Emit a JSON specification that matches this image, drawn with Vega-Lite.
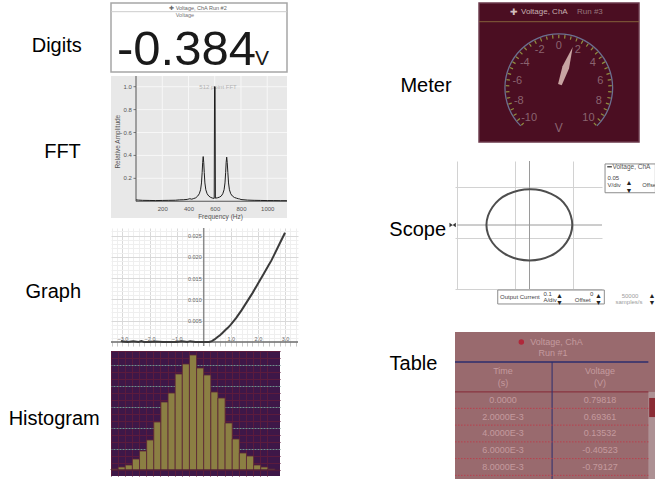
{
"$schema":"https://vega.github.io/schema/vega-lite/v6.json",
"background":"#ffffff",
"padding":{"left":0,"top":2,"right":0,"bottom":0},
"autosize":{"type":"pad"},
"spacing":0,
"bounds":"full",
"config":{"font":"Liberation Sans","view":{"stroke":null}},
"hconcat":[
{"columns":2,"align":"each","bounds":"flush","spacing":{"row":0,"column":0},
"concat":[
{"width":111,"height":73,"data":{"values":[{"label":"Digits"}]},"mark":{"type":"text","fontSize":20,"color":"#000000","dx":1.2,"dy":6.8},"encoding":{"text":{"field":"label"}}},
{"width":176,"height":69,"view":{"fill":"#ffffff","stroke":"#a6a6a6","strokeWidth":1.5},
"data":{"values":[{"quantity":"Voltage","header":"✚ Voltage, ChA   Run #2","reading":"-0.384","unit":"V"}]},
"layer":[
{"mark":{"type":"rule","color":"#cccccc","strokeWidth":1},"encoding":{"y":{"datum":0.874,"type":"quantitative","scale":{"domain":[0,1]},"axis":null}}},
{"mark":{"type":"text","fontSize":5.5,"color":"#666666"},"encoding":{"x":{"datum":0.494,"type":"quantitative","scale":{"domain":[0,1]},"axis":null},"y":{"datum":0.928,"type":"quantitative","scale":{"domain":[0,1]},"axis":null},"text":{"field":"header"}}},
{"mark":{"type":"text","fontSize":5.5,"color":"#777777"},"encoding":{"x":{"datum":0.42,"type":"quantitative","scale":{"domain":[0,1]},"axis":null},"y":{"datum":0.826,"type":"quantitative","scale":{"domain":[0,1]},"axis":null},"text":{"field":"quantity"}}},
{"mark":{"type":"text","fontSize":49,"color":"#1a1a1a","align":"left","baseline":"alphabetic"},"encoding":{"x":{"datum":0.034,"type":"quantitative","scale":{"domain":[0,1]},"axis":null},"y":{"datum":0.101,"type":"quantitative","scale":{"domain":[0,1]},"axis":null},"text":{"field":"reading"}}},
{"mark":{"type":"text","fontSize":21,"color":"#1a1a1a","align":"left","baseline":"alphabetic"},"encoding":{"x":{"datum":0.818,"type":"quantitative","scale":{"domain":[0,1]},"axis":null},"y":{"datum":0.101,"type":"quantitative","scale":{"domain":[0,1]},"axis":null},"text":{"field":"unit"}}}
]},
{"width":111,"height":152,"data":{"values":[{"label":"FFT"}]},"mark":{"type":"text","fontSize":20,"color":"#000000","dx":7,"dy":-0.4},"encoding":{"text":{"field":"label"}}},
{"width":176,"height":142,"view":{"fill":"#e8e8e8","stroke":null},
"layer":[
{"data":{"values":[{"f":200},{"f":400},{"f":600},{"f":800},{"f":1000}]},"mark":{"type":"rule","color":"#f7f7f7","strokeWidth":1},
"encoding":{"x":{"field":"f","type":"quantitative","scale":{"domain":[-190.5,1150.5]},"axis":{"orient":"bottom","offset":-16.75,"values":[200,400,600,800,1000],"format":"d","grid":false,"domain":false,"ticks":false,"tickSize":0,"labelPadding":4.5,"labelOverlap":false,"labelFontSize":6,"labelColor":"#555555","title":null}},
"y":{"datum":0,"type":"quantitative","scale":{"domain":[-0.1462,1.0934]},"axis":null},
"y2":{"datum":1.0934}}},
{"data":{"values":[{"a":0.2},{"a":0.4},{"a":0.6},{"a":0.8},{"a":1.0}]},"layer":[
{"mark":{"type":"rule","color":"#f7f7f7","strokeWidth":1},
"encoding":{"y":{"field":"a","type":"quantitative","scale":{"domain":[-0.1462,1.0934]}},"x":{"datum":0,"type":"quantitative","scale":{"domain":[-190.5,1150.5]}},"x2":{"datum":1150.5}}},
{"mark":{"type":"rule","color":"#777777","strokeWidth":1},
"encoding":{"y":{"field":"a","type":"quantitative","scale":{"domain":[-0.1462,1.0934]}},"x":{"datum":-19,"type":"quantitative","scale":{"domain":[-190.5,1150.5]}},"x2":{"datum":0}}},
{"mark":{"type":"text","fontSize":6,"color":"#555555","align":"right"},
"encoding":{"y":{"field":"a","type":"quantitative","scale":{"domain":[-0.1462,1.0934]}},"x":{"datum":-31,"type":"quantitative","scale":{"domain":[-190.5,1150.5]}},"text":{"field":"a","type":"quantitative","format":".1f"}}}
]},
{"data":{"values":[{}]},"mark":{"type":"rule","color":"#555555","strokeWidth":1},
"encoding":{"y":{"datum":0,"type":"quantitative","scale":{"domain":[-0.1462,1.0934]}},"x":{"datum":0,"type":"quantitative","scale":{"domain":[-190.5,1150.5]}},"x2":{"datum":1150.5}}},
{"data":{"values":[{}]},"mark":{"type":"rule","color":"#555555","strokeWidth":1},
"encoding":{"x":{"datum":0,"type":"quantitative","scale":{"domain":[-190.5,1150.5]}},"y":{"datum":0,"type":"quantitative","scale":{"domain":[-0.1462,1.0934]}},"y2":{"datum":1.0934}}},
{"data":{"values":[{"title":"512 point FFT","xtitle":"Frequency (Hz)","ytitle":"Relative Amplitude"}]},"layer":[
{"mark":{"type":"text","fontSize":6,"color":"#b3b3b3"},"encoding":{"x":{"datum":625,"type":"quantitative","scale":{"domain":[-190.5,1150.5]}},"y":{"datum":1.0,"type":"quantitative","scale":{"domain":[-0.1462,1.0934]}},"text":{"field":"title"}}},
{"mark":{"type":"text","fontSize":6.5,"color":"#555555"},"encoding":{"x":{"datum":644,"type":"quantitative","scale":{"domain":[-190.5,1150.5]}},"y":{"datum":-0.136,"type":"quantitative","scale":{"domain":[-0.1462,1.0934]}},"text":{"field":"xtitle"}}},
{"mark":{"type":"text","fontSize":6.5,"color":"#555555","angle":270},"encoding":{"x":{"datum":-135,"type":"quantitative","scale":{"domain":[-190.5,1150.5]}},"y":{"datum":0.52,"type":"quantitative","scale":{"domain":[-0.1462,1.0934]}},"text":{"field":"ytitle"}}}
]},
{"data":{"values":[
{"frequency":0,"amplitude":0.012},{"frequency":20,"amplitude":0.01},{"frequency":50,"amplitude":0.008},{"frequency":100,"amplitude":0.007},{"frequency":150,"amplitude":0.006},{"frequency":200,"amplitude":0.007},{"frequency":250,"amplitude":0.008},{"frequency":300,"amplitude":0.009},{"frequency":330,"amplitude":0.012},{"frequency":360,"amplitude":0.013},{"frequency":390,"amplitude":0.016},{"frequency":410,"amplitude":0.022},{"frequency":425,"amplitude":0.018},{"frequency":440,"amplitude":0.024},{"frequency":455,"amplitude":0.03},{"frequency":470,"amplitude":0.045},{"frequency":482,"amplitude":0.065},{"frequency":492,"amplitude":0.1},{"frequency":499,"amplitude":0.16},{"frequency":504,"amplitude":0.25},{"frequency":508,"amplitude":0.34},{"frequency":512,"amplitude":0.39},{"frequency":516,"amplitude":0.34},{"frequency":520,"amplitude":0.25},{"frequency":525,"amplitude":0.16},{"frequency":532,"amplitude":0.1},{"frequency":542,"amplitude":0.065},{"frequency":555,"amplitude":0.045},{"frequency":570,"amplitude":0.033},{"frequency":585,"amplitude":0.027},{"frequency":596,"amplitude":0.025},{"frequency":598.5,"amplitude":1.0},{"frequency":602.5,"amplitude":1.0},{"frequency":605,"amplitude":0.027},{"frequency":620,"amplitude":0.03},{"frequency":636,"amplitude":0.036},{"frequency":649,"amplitude":0.045},{"frequency":661,"amplitude":0.065},{"frequency":671,"amplitude":0.1},{"frequency":678,"amplitude":0.16},{"frequency":683,"amplitude":0.25},{"frequency":687,"amplitude":0.34},{"frequency":691,"amplitude":0.385},{"frequency":695,"amplitude":0.34},{"frequency":700,"amplitude":0.25},{"frequency":705,"amplitude":0.16},{"frequency":712,"amplitude":0.1},{"frequency":722,"amplitude":0.065},{"frequency":735,"amplitude":0.045},{"frequency":750,"amplitude":0.033},{"frequency":765,"amplitude":0.027},{"frequency":780,"amplitude":0.022},{"frequency":790,"amplitude":0.02},{"frequency":800,"amplitude":0.015},{"frequency":850,"amplitude":0.01},{"frequency":900,"amplitude":0.008},{"frequency":950,"amplitude":0.007},{"frequency":1000,"amplitude":0.006},{"frequency":1050,"amplitude":0.006},{"frequency":1100,"amplitude":0.005},{"frequency":1150,"amplitude":0.005}
]},"mark":{"type":"line","color":"#1e1e1e","strokeWidth":1},
"encoding":{"x":{"field":"frequency","type":"quantitative","scale":{"domain":[-190.5,1150.5]}},"y":{"field":"amplitude","type":"quantitative","scale":{"domain":[-0.1462,1.0934]}}}}
]},
{"width":111,"height":123,"data":{"values":[{"label":"Graph"}]},"mark":{"type":"text","fontSize":20,"color":"#000000","dx":-2.2,"dy":2.8},"encoding":{"text":{"field":"label"}}},
{"width":187,"height":118,"view":{"fill":"#ffffff","stroke":null},
"layer":[
{"data":{"values":[{}]},"mark":{"type":"rule","color":"#8a8a8a","strokeWidth":1.5},
"encoding":{"x":{"datum":0,"type":"quantitative","scale":{"domain":[-3.421,3.48]},"axis":{"orient":"bottom","offset":-4,"values":[-3.4,-3.2,-2.8,-2.6,-2.4,-2.2,-1.8,-1.6,-1.4,-1.2,-0.8,-0.6,-0.4,-0.2,0.2,0.4,0.6,0.8,1.2,1.4,1.6,1.8,2.2,2.4,2.6,2.8,3.2,3.4],"grid":true,"gridColor":"#efefef","domain":false,"ticks":true,"tickSize":4,"tickColor":"#c8c8c8","labels":false,"title":null}}}},
{"data":{"values":[{}]},"mark":{"type":"rule","color":"#6a6a6a","strokeWidth":1.5},
"encoding":{"y":{"datum":0,"type":"quantitative","scale":{"domain":[-0.00094,0.02682]},"axis":{"orient":"right","values":[0.001,0.002,0.003,0.004,0.006,0.007,0.008,0.009,0.011,0.012,0.013,0.014,0.016,0.017,0.018,0.019,0.021,0.022,0.023,0.024,0.026],"grid":true,"gridColor":"#efefef","domain":false,"ticks":false,"tickSize":0,"labels":false,"title":null}}}},
{"data":{"values":[
{"x":-3.05,"y":0.0003},{"x":-3.0,"y":0.0001},{"x":-2.8,"y":0.0},{"x":-2.6,"y":0.0002},{"x":-2.4,"y":0.0},{"x":-2.3,"y":0.0002},{"x":-2.2,"y":0.0},{"x":-2.0,"y":0.0},{"x":-1.8,"y":0.0001},{"x":-1.5,"y":0.0},{"x":-1.2,"y":0.0},{"x":-1.0,"y":0.0},{"x":-0.8,"y":0.0002},{"x":-0.6,"y":0.0},{"x":-0.5,"y":0.0002},{"x":-0.3,"y":0.0},{"x":0.0,"y":0.0},{"x":0.2,"y":0.0},{"x":0.3,"y":0.0002},{"x":0.4,"y":0.0006},{"x":0.5,"y":0.0011},{"x":0.6,"y":0.0016},{"x":0.7,"y":0.0022},{"x":0.8,"y":0.0028},{"x":0.9,"y":0.0034},{"x":1.0,"y":0.0041},{"x":1.2,"y":0.0057},{"x":1.4,"y":0.0075},{"x":1.5,"y":0.0085},{"x":1.6,"y":0.0095},{"x":1.8,"y":0.0115},{"x":2.0,"y":0.0137},{"x":2.2,"y":0.0159},{"x":2.4,"y":0.0181},{"x":2.5,"y":0.0192},{"x":2.6,"y":0.0205},{"x":2.8,"y":0.0231},{"x":3.0,"y":0.0257}
]},"mark":{"type":"line","color":"#3a3a3a","strokeWidth":2},
"encoding":{"x":{"field":"x","type":"quantitative","scale":{"domain":[-3.421,3.48]},"axis":{"orient":"top","offset":-114,"values":[-3,-2,-1,1,2,3],"format":".1f","grid":true,"gridColor":"#d9d9d9","domain":false,"ticks":false,"tickSize":0,"labelPadding":1,"labelOverlap":false,"labelFontSize":5.5,"labelColor":"#666666","title":null}},
"y":{"field":"y","type":"quantitative","scale":{"domain":[-0.00094,0.02682]},"axis":{"orient":"left","offset":-92.7,"values":[0.005,0.01,0.015,0.02,0.025],"format":".3f","grid":true,"gridColor":"#d9d9d9","domain":false,"ticks":false,"tickSize":0,"labelPadding":2.5,"labelOverlap":false,"labelFontSize":5.5,"labelColor":"#666666","title":null}}}}
]},
{"width":111,"height":125,"data":{"values":[{"label":"Histogram"}]},"mark":{"type":"text","fontSize":20,"color":"#000000","dx":-1.3,"dy":5.6},"encoding":{"text":{"field":"label"}}},
{"width":169,"height":125,"view":{"fill":"#3e1748","stroke":null},
"layer":[
{"data":{"values":[{"bin":1,"count":1},{"bin":2,"count":3},{"bin":3,"count":5},{"bin":4,"count":11},{"bin":5,"count":19},{"bin":6,"count":30},{"bin":7,"count":48},{"bin":8,"count":68},{"bin":9,"count":77},{"bin":10,"count":96},{"bin":11,"count":106},{"bin":12,"count":115},{"bin":13,"count":102},{"bin":14,"count":95},{"bin":15,"count":78},{"bin":16,"count":72},{"bin":17,"count":47},{"bin":18,"count":31},{"bin":19,"count":17},{"bin":20,"count":14},{"bin":21,"count":5},{"bin":22,"count":3},{"bin":23,"count":1}]},
"mark":{"type":"bar","color":"#8b7f43","stroke":"#5c2636","strokeWidth":0.8},
"encoding":{"x":{"field":"bin","type":"ordinal","scale":{"type":"band","paddingInner":0,"paddingOuter":0.35,"align":0},"axis":{"grid":true,"gridColor":"#5b1b3d","bandPosition":0,"labels":false,"ticks":false,"tickSize":0,"domain":false,"title":null}},
"y":{"field":"count","type":"quantitative","scale":{"domain":[-6,119]},"axis":{"orient":"left","values":[0,7,14,28,35,49,56,70,77,91,98,112,119],"grid":true,"gridColor":"#5b1b3d","labels":false,"ticks":false,"tickSize":0,"domain":false,"title":null}},
"y2":{"datum":0}}},
{"data":{"values":[{}]},"mark":{"type":"rule","color":"#4a1a3a","strokeWidth":1},
"encoding":{"y":{"datum":0,"type":"quantitative","scale":{"domain":[-6,119]},"axis":{"orient":"right","values":[21,42,63,84,105],"grid":true,"gridColor":"#6f908b","gridDash":[2,1],"gridWidth":1.2,"labels":false,"ticks":false,"tickSize":0,"domain":false,"title":null}}}}
]}
]},
{"columns":2,"align":"each","bounds":"flush","spacing":{"row":0,"column":0},
"concat":[
{"width":156,"height":158,"data":{"values":[{"label":"Meter"}]},"mark":{"type":"text","fontSize":20,"color":"#000000","dx":49,"dy":4.3},"encoding":{"text":{"field":"label"}}},
{"width":184,"height":139,
"data":{"values":[{"plus":"✚","source":"Voltage, ChA","run":"Run #3","reading":1.4,"unit":"V"}]},
"layer":[
{"mark":{"type":"rect","fill":"#4b0e22","stroke":"#6b394b","strokeWidth":1.5},"encoding":{"x":{"datum":-1.464,"type":"quantitative","scale":{"domain":[-1.905,1.472]},"axis":null},"x2":{"datum":1.472},"y":{"datum":-0.994,"type":"quantitative","scale":{"domain":[-0.994,1.556]},"axis":null},"y2":{"datum":1.556}}},
{"mark":{"type":"rule","color":"#83603a","strokeWidth":1},"encoding":{"x":{"datum":-1.464,"type":"quantitative","scale":{"domain":[-1.905,1.472]},"axis":null},"x2":{"datum":1.472},"y":{"datum":1.213,"type":"quantitative","scale":{"domain":[-0.994,1.556]},"axis":null}}},
{"mark":{"type":"text","fontSize":9,"color":"#d4bebe"},"encoding":{"x":{"datum":-0.828,"type":"quantitative","scale":{"domain":[-1.905,1.472]},"axis":null},"y":{"datum":1.385,"type":"quantitative","scale":{"domain":[-0.994,1.556]},"axis":null},"text":{"field":"plus"}}},
{"mark":{"type":"text","fontSize":8,"color":"#c7b0b0","align":"left"},"encoding":{"x":{"datum":-0.694,"type":"quantitative","scale":{"domain":[-1.905,1.472]},"axis":null},"y":{"datum":1.385,"type":"quantitative","scale":{"domain":[-0.994,1.556]},"axis":null},"text":{"field":"source"}}},
{"mark":{"type":"text","fontSize":8,"color":"#98767d","align":"left"},"encoding":{"x":{"datum":0.334,"type":"quantitative","scale":{"domain":[-1.905,1.472]},"axis":null},"y":{"datum":1.385,"type":"quantitative","scale":{"domain":[-0.994,1.556]},"axis":null},"text":{"field":"run"}}},
{"data":{"values":[{"from":-10,"to":10}]},"mark":{"type":"arc","radius":54.5,"radius2":53.2,"color":"#6c7090"},
"encoding":{"x":{"datum":0,"type":"quantitative","scale":{"domain":[-1.905,1.472]},"axis":null},"y":{"datum":0,"type":"quantitative","scale":{"domain":[-0.994,1.556]},"axis":null},"theta":{"field":"from","type":"quantitative","stack":null,"scale":{"domain":[-10,10],"range":[-2.3562,2.3562]}},"theta2":{"field":"to"}}},
{"data":{"values":[{"v":-10},{"v":-9.5},{"v":-9},{"v":-8.5},{"v":-8},{"v":-7.5},{"v":-7},{"v":-6.5},{"v":-6},{"v":-5.5},{"v":-5},{"v":-4.5},{"v":-4},{"v":-3.5},{"v":-3},{"v":-2.5},{"v":-2},{"v":-1.5},{"v":-1},{"v":-0.5},{"v":0},{"v":0.5},{"v":1},{"v":1.5},{"v":2},{"v":2.5},{"v":3},{"v":3.5},{"v":4},{"v":4.5},{"v":5},{"v":5.5},{"v":6},{"v":6.5},{"v":7},{"v":7.5},{"v":8},{"v":8.5},{"v":9},{"v":9.5},{"v":10}]},
"mark":{"type":"arc","radius":53,"radius2":49.5,"thetaOffset":-0.012,"theta2Offset":0.012,"color":"#8f8c3e"},
"encoding":{"x":{"datum":0,"type":"quantitative","scale":{"domain":[-1.905,1.472]},"axis":null},"y":{"datum":0,"type":"quantitative","scale":{"domain":[-0.994,1.556]},"axis":null},"theta":{"field":"v","type":"quantitative","stack":null,"scale":{"domain":[-10,10],"range":[-2.3562,2.3562]}},"theta2":{"field":"v"}}},
{"data":{"values":[{"v":-10},{"v":-8},{"v":-6},{"v":-4},{"v":-2},{"v":0},{"v":2},{"v":4},{"v":6},{"v":8},{"v":10}]},
"mark":{"type":"text","radius":42,"fontSize":11,"color":"#8a6470"},
"encoding":{"x":{"datum":0,"type":"quantitative","scale":{"domain":[-1.905,1.472]},"axis":null},"y":{"datum":0,"type":"quantitative","scale":{"domain":[-0.994,1.556]},"axis":null},"theta":{"field":"v","type":"quantitative","stack":null,"scale":{"domain":[-10,10],"range":[-2.3562,2.3562]}},"text":{"field":"v","type":"nominal"}}},
{"mark":{"type":"text","fontSize":12,"color":"#8a6470"},"encoding":{"x":{"datum":0,"type":"quantitative","scale":{"domain":[-1.905,1.472]},"axis":null},"y":{"datum":-0.743,"type":"quantitative","scale":{"domain":[-0.994,1.556]},"axis":null},"text":{"field":"unit"}}},
{"mark":{"type":"point","shape":"M0,-1L0.08,-0.5L0.045,-0.08L-0.045,-0.08L-0.08,-0.5Z","size":7400,"filled":true,"color":"#c8a4a2","opacity":1},
"encoding":{"x":{"datum":0,"type":"quantitative","scale":{"domain":[-1.905,1.472]},"axis":null},"y":{"datum":0,"type":"quantitative","scale":{"domain":[-0.994,1.556]},"axis":null},"angle":{"field":"reading","type":"quantitative","scale":{"domain":[-10,10],"range":[-135,135]}}}}
]},
{"width":156,"height":171,"data":{"values":[{"label":"Scope"}]},"mark":{"type":"text","fontSize":20,"color":"#000000","dx":40.7,"dy":-16.4},"encoding":{"text":{"field":"label"}}},
{"width":147,"height":128,"view":{"fill":"#ffffff","stroke":null},
"data":{"values":[{"channel":"Voltage, ChA","ydiv":"0.05","yunit":"V/div","yoffset":"Offse","xsource":"Output Current","xdiv":"0.1","xunit":"A/div","xoffset":"0","xoffsetLabel":"Offset","rate":"50000","rateunit":"samples/s","arrows":["▲","▼"]}]},
"layer":[
{"mark":{"type":"rule","color":"#9a9a9a","strokeWidth":1},"encoding":{"x":{"datum":-5,"type":"quantitative","scale":{"domain":[-5.138,5]},"axis":{"orient":"bottom","values":[-5,-4,-3,-2,-1,0,1,2,3,4,5],"grid":true,"gridColor":"#d2d2d2","labels":false,"ticks":false,"tickSize":0,"domain":false,"title":null}},"x2":{"datum":5},"y":{"datum":0,"type":"quantitative","scale":{"domain":[-5,5]},"axis":{"orient":"left","values":[-5,-4,-3,-2,-1,0,1,2,3,4,5],"grid":true,"gridColor":"#d2d2d2","labels":false,"ticks":false,"tickSize":0,"domain":false,"title":null}}}},
{"mark":{"type":"rule","color":"#9a9a9a","strokeWidth":1},"encoding":{"x":{"datum":0,"type":"quantitative","scale":{"domain":[-5.138,5]}},"y":{"datum":-5,"type":"quantitative","scale":{"domain":[-5,5]}},"y2":{"datum":5}}},
{"data":{"values":[{"t":0,"x":2.95,"y":0},{"t":15,"x":2.85,"y":0.72},{"t":30,"x":2.58,"y":1.4},{"t":45,"x":2.14,"y":1.99},{"t":60,"x":1.5,"y":2.43},{"t":75,"x":0.78,"y":2.71},{"t":90,"x":0.05,"y":2.79},{"t":105,"x":-0.74,"y":2.7},{"t":120,"x":-1.47,"y":2.42},{"t":135,"x":-2.1,"y":1.98},{"t":150,"x":-2.56,"y":1.39},{"t":165,"x":-2.86,"y":0.72},{"t":180,"x":-2.97,"y":0},{"t":195,"x":-2.86,"y":-0.72},{"t":210,"x":-2.55,"y":-1.39},{"t":225,"x":-2.08,"y":-1.96},{"t":240,"x":-1.47,"y":-2.4},{"t":255,"x":-0.75,"y":-2.68},{"t":270,"x":0,"y":-2.77},{"t":285,"x":0.76,"y":-2.68},{"t":300,"x":1.48,"y":-2.4},{"t":315,"x":2.08,"y":-1.96},{"t":330,"x":2.54,"y":-1.38},{"t":345,"x":2.84,"y":-0.71}]},
"mark":{"type":"line","interpolate":"cardinal-closed","color":"#4e4e4e","strokeWidth":2},
"encoding":{"x":{"field":"x","type":"quantitative","scale":{"domain":[-5.138,5]}},"y":{"field":"y","type":"quantitative","scale":{"domain":[-5,5]}},"order":{"field":"t","type":"quantitative"}}},
{"mark":{"type":"rect","fill":"#ffffff","stroke":"#8c8c8c","strokeWidth":1},"encoding":{"x":{"datum":5.21,"type":"quantitative","scale":{"domain":[-5.138,5]}},"x2":{"datum":8.68},"y":{"datum":2.52,"type":"quantitative","scale":{"domain":[-5,5]}},"y2":{"datum":4.77}}},
{"mark":{"type":"rule","color":"#555555","strokeWidth":1.5},"encoding":{"x":{"datum":5.36,"type":"quantitative","scale":{"domain":[-5.138,5]}},"x2":{"datum":5.68},"y":{"datum":4.55,"type":"quantitative","scale":{"domain":[-5,5]}}}},
{"mark":{"type":"text","fontSize":6.5,"color":"#555555","align":"left"},"encoding":{"x":{"datum":5.72,"type":"quantitative","scale":{"domain":[-5.138,5]}},"y":{"datum":4.55,"type":"quantitative","scale":{"domain":[-5,5]}},"text":{"field":"channel"}}},
{"mark":{"type":"text","fontSize":6,"color":"#444444","align":"left"},"encoding":{"x":{"datum":5.38,"type":"quantitative","scale":{"domain":[-5.138,5]}},"y":{"datum":3.7,"type":"quantitative","scale":{"domain":[-5,5]}},"text":{"field":"ydiv"}}},
{"mark":{"type":"text","fontSize":6,"color":"#444444","align":"left"},"encoding":{"x":{"datum":5.38,"type":"quantitative","scale":{"domain":[-5.138,5]}},"y":{"datum":3.15,"type":"quantitative","scale":{"domain":[-5,5]}},"text":{"field":"yunit"}}},
{"mark":{"type":"text","fontSize":7,"color":"#222222","lineHeight":8},"encoding":{"x":{"datum":6.86,"type":"quantitative","scale":{"domain":[-5.138,5]}},"y":{"datum":3.3,"type":"quantitative","scale":{"domain":[-5,5]}},"text":{"field":"arrows"}}},
{"mark":{"type":"text","fontSize":5.8,"color":"#444444","align":"left"},"encoding":{"x":{"datum":7.78,"type":"quantitative","scale":{"domain":[-5.138,5]}},"y":{"datum":3.15,"type":"quantitative","scale":{"domain":[-5,5]}},"text":{"field":"yoffset"}}},
{"mark":{"type":"rect","fill":"#ffffff","stroke":"#8c8c8c","strokeWidth":1},"encoding":{"x":{"datum":-2.19,"type":"quantitative","scale":{"domain":[-5.138,5]}},"x2":{"datum":5.16},"y":{"datum":-6.17,"type":"quantitative","scale":{"domain":[-5,5]}},"y2":{"datum":-5.08}}},
{"mark":{"type":"text","fontSize":6,"color":"#444444","align":"left"},"encoding":{"x":{"datum":-2.03,"type":"quantitative","scale":{"domain":[-5.138,5]}},"y":{"datum":-5.63,"type":"quantitative","scale":{"domain":[-5,5]}},"text":{"field":"xsource"}}},
{"mark":{"type":"text","fontSize":6,"color":"#444444"},"encoding":{"x":{"datum":1.25,"type":"quantitative","scale":{"domain":[-5.138,5]}},"y":{"datum":-5.37,"type":"quantitative","scale":{"domain":[-5,5]}},"text":{"field":"xdiv"}}},
{"mark":{"type":"text","fontSize":6,"color":"#444444"},"encoding":{"x":{"datum":1.42,"type":"quantitative","scale":{"domain":[-5.138,5]}},"y":{"datum":-5.86,"type":"quantitative","scale":{"domain":[-5,5]}},"text":{"field":"xunit"}}},
{"mark":{"type":"text","fontSize":7,"color":"#222222","lineHeight":7},"encoding":{"x":{"datum":2.06,"type":"quantitative","scale":{"domain":[-5.138,5]}},"y":{"datum":-5.55,"type":"quantitative","scale":{"domain":[-5,5]}},"text":{"field":"arrows"}}},
{"mark":{"type":"text","fontSize":6,"color":"#444444"},"encoding":{"x":{"datum":4.29,"type":"quantitative","scale":{"domain":[-5.138,5]}},"y":{"datum":-5.37,"type":"quantitative","scale":{"domain":[-5,5]}},"text":{"field":"xoffset"}}},
{"mark":{"type":"text","fontSize":6,"color":"#444444"},"encoding":{"x":{"datum":3.67,"type":"quantitative","scale":{"domain":[-5.138,5]}},"y":{"datum":-5.86,"type":"quantitative","scale":{"domain":[-5,5]}},"text":{"field":"xoffsetLabel"}}},
{"mark":{"type":"text","fontSize":7,"color":"#222222","lineHeight":7},"encoding":{"x":{"datum":4.75,"type":"quantitative","scale":{"domain":[-5.138,5]}},"y":{"datum":-5.55,"type":"quantitative","scale":{"domain":[-5,5]}},"text":{"field":"arrows"}}},
{"mark":{"type":"text","fontSize":6,"color":"#9c9c9c"},"encoding":{"x":{"datum":6.93,"type":"quantitative","scale":{"domain":[-5.138,5]}},"y":{"datum":-5.52,"type":"quantitative","scale":{"domain":[-5,5]}},"text":{"field":"rate"}}},
{"mark":{"type":"text","fontSize":6,"color":"#9c9c9c"},"encoding":{"x":{"datum":6.86,"type":"quantitative","scale":{"domain":[-5.138,5]}},"y":{"datum":-5.99,"type":"quantitative","scale":{"domain":[-5,5]}},"text":{"field":"rateunit"}}},
{"mark":{"type":"text","fontSize":7,"color":"#222222","lineHeight":7},"encoding":{"x":{"datum":8.45,"type":"quantitative","scale":{"domain":[-5.138,5]}},"y":{"datum":-5.55,"type":"quantitative","scale":{"domain":[-5,5]}},"text":{"field":"arrows"}}},
{"mark":{"type":"point","shape":"M-1,-0.7L1,0.7L1,-0.7L-1,0.7Z","size":40,"filled":true,"color":"#333333","opacity":1},"encoding":{"x":{"datum":-5.3,"type":"quantitative","scale":{"domain":[-5.138,5]}},"y":{"datum":0,"type":"quantitative","scale":{"domain":[-5,5]}}}}
]},
{"width":156,"height":147,"data":{"values":[{"label":"Table"}]},"mark":{"type":"text","fontSize":20,"color":"#000000","dx":36.5,"dy":-41.5},"encoding":{"text":{"field":"label"}}},
{"width":201,"height":147,
"data":{"values":[{"source":"Voltage, ChA","run":"Run #1","timeHeader":"Time","timeUnit":"(s)","voltHeader":"Voltage","voltUnit":"(V)"}]},
"layer":[
{"mark":{"type":"rect","fill":"#996a6e"},"encoding":{"x":{"datum":0,"type":"quantitative","scale":{"domain":[0,1]},"axis":null},"x2":{"datum":1},"y":{"datum":-3.06,"type":"quantitative","scale":{"domain":[-3.06,5.72],"reverse":true},"axis":null},"y2":{"datum":5.72}}},
{"mark":{"type":"rect","fill":"#ad9194"},"encoding":{"x":{"datum":0.962,"type":"quantitative","scale":{"domain":[0,1]},"axis":null},"x2":{"datum":1},"y":{"datum":0.52,"type":"quantitative","scale":{"domain":[-3.06,5.72],"reverse":true},"axis":null},"y2":{"datum":5.72}}},
{"mark":{"type":"rect","fill":"#8a2b34"},"encoding":{"x":{"datum":0.966,"type":"quantitative","scale":{"domain":[0,1]},"axis":null},"x2":{"datum":1},"y":{"datum":0.88,"type":"quantitative","scale":{"domain":[-3.06,5.72],"reverse":true},"axis":null},"y2":{"datum":2.02}}},
{"mark":{"type":"rule","color":"#2c2e6e","strokeWidth":1.5},"encoding":{"x":{"datum":0,"type":"quantitative","scale":{"domain":[0,1]},"axis":null},"x2":{"datum":0.962},"y":{"datum":-1.27,"type":"quantitative","scale":{"domain":[-3.06,5.72],"reverse":true},"axis":null}}},
{"mark":{"type":"rule","color":"#8a3440","strokeWidth":1.2},"encoding":{"x":{"datum":0,"type":"quantitative","scale":{"domain":[0,1]},"axis":null},"x2":{"datum":0.962},"y":{"datum":0.52,"type":"quantitative","scale":{"domain":[-3.06,5.72],"reverse":true},"axis":null}}},
{"mark":{"type":"rule","color":"#2c2e6e","strokeWidth":1},"encoding":{"x":{"datum":0.483,"type":"quantitative","scale":{"domain":[0,1]},"axis":null},"y":{"datum":-1.27,"type":"quantitative","scale":{"domain":[-3.06,5.72],"reverse":true},"axis":null},"y2":{"datum":5.72}}},
{"mark":{"type":"point","shape":"circle","size":30,"filled":true,"color":"#b0283a","opacity":1},"encoding":{"x":{"datum":0.33,"type":"quantitative","scale":{"domain":[0,1]},"axis":null},"y":{"datum":-2.46,"type":"quantitative","scale":{"domain":[-3.06,5.72],"reverse":true},"axis":null}}},
{"mark":{"type":"text","fontSize":9,"color":"#c49a9e"},"encoding":{"x":{"datum":0.505,"type":"quantitative","scale":{"domain":[0,1]},"axis":null},"y":{"datum":-2.46,"type":"quantitative","scale":{"domain":[-3.06,5.72],"reverse":true},"axis":null},"text":{"field":"source"}}},
{"mark":{"type":"text","fontSize":9,"color":"#c49a9e"},"encoding":{"x":{"datum":0.488,"type":"quantitative","scale":{"domain":[0,1]},"axis":null},"y":{"datum":-1.81,"type":"quantitative","scale":{"domain":[-3.06,5.72],"reverse":true},"axis":null},"text":{"field":"run"}}},
{"mark":{"type":"text","fontSize":9,"color":"#c49a9e"},"encoding":{"x":{"datum":0.239,"type":"quantitative","scale":{"domain":[0,1]},"axis":null},"y":{"datum":-0.73,"type":"quantitative","scale":{"domain":[-3.06,5.72],"reverse":true},"axis":null},"text":{"field":"timeHeader"}}},
{"mark":{"type":"text","fontSize":9,"color":"#c49a9e"},"encoding":{"x":{"datum":0.239,"type":"quantitative","scale":{"domain":[0,1]},"axis":null},"y":{"datum":-0.01,"type":"quantitative","scale":{"domain":[-3.06,5.72],"reverse":true},"axis":null},"text":{"field":"timeUnit"}}},
{"mark":{"type":"text","fontSize":9,"color":"#c49a9e"},"encoding":{"x":{"datum":0.721,"type":"quantitative","scale":{"domain":[0,1]},"axis":null},"y":{"datum":-0.73,"type":"quantitative","scale":{"domain":[-3.06,5.72],"reverse":true},"axis":null},"text":{"field":"voltHeader"}}},
{"mark":{"type":"text","fontSize":9,"color":"#c49a9e"},"encoding":{"x":{"datum":0.721,"type":"quantitative","scale":{"domain":[0,1]},"axis":null},"y":{"datum":-0.01,"type":"quantitative","scale":{"domain":[-3.06,5.72],"reverse":true},"axis":null},"text":{"field":"voltUnit"}}},
{"data":{"values":[{"row":1,"time":"0.0000","voltage":"0.79818"},{"row":2,"time":"2.0000E-3","voltage":"0.69361"},{"row":3,"time":"4.0000E-3","voltage":"0.13532"},{"row":4,"time":"6.0000E-3","voltage":"-0.40523"},{"row":5,"time":"8.0000E-3","voltage":"-0.79127"}]},
"layer":[
{"mark":{"type":"rule","color":"#b9404e","strokeWidth":1,"strokeDash":[1.5,1.5],"yOffset":8.4},"encoding":{"x":{"datum":0,"type":"quantitative","scale":{"domain":[0,1]},"axis":null},"x2":{"datum":0.962},"y":{"field":"row","type":"quantitative","scale":{"domain":[-3.06,5.72],"reverse":true},"axis":null}}},
{"mark":{"type":"text","fontSize":9,"color":"#c49a9e"},"encoding":{"x":{"datum":0.239,"type":"quantitative","scale":{"domain":[0,1]},"axis":null},"y":{"field":"row","type":"quantitative","scale":{"domain":[-3.06,5.72],"reverse":true},"axis":null},"text":{"field":"time"}}},
{"mark":{"type":"text","fontSize":9,"color":"#c49a9e"},"encoding":{"x":{"datum":0.721,"type":"quantitative","scale":{"domain":[0,1]},"axis":null},"y":{"field":"row","type":"quantitative","scale":{"domain":[-3.06,5.72],"reverse":true},"axis":null},"text":{"field":"voltage"}}}
]}
]}
]}
]
}
